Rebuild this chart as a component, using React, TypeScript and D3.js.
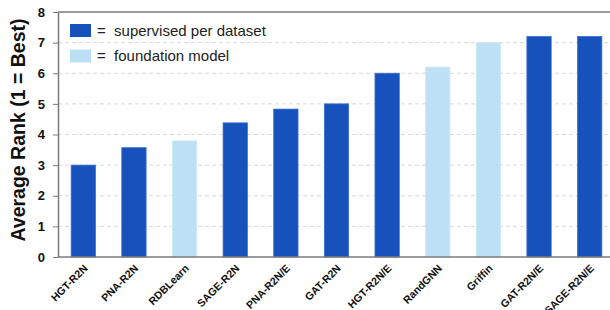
import React, { useEffect, useRef } from "react";
import * as d3 from "d3";

const models = [
  "HGT-R2N",
  "PNA-R2N",
  "RDBLearn",
  "SAGE-R2N",
  "PNA-R2N/E",
  "GAT-R2N",
  "HGT-R2N/E",
  "RandGNN",
  "Griffin",
  "GAT-R2N/E",
  "SAGE-R2N/E",
];
const avgRank = [3.0, 3.57, 3.79, 4.38, 4.83, 5.0, 6.0, 6.2, 7.0, 7.2, 7.2];
const isFoundation = [false, false, true, false, false, false, false, true, true, false, false];
const yTicks = [0, 1, 2, 3, 4, 5, 6, 7, 8];
const legendItems = ["supervised per dataset", "foundation model"];

const DARK = "#1751bb";
const LIGHT = "#bde0f5";

const App = () => {
  const svgRef = useRef<SVGSVGElement>(null);

  useEffect(() => {
    const svg = d3.select(svgRef.current);
    svg.selectAll("*").remove();

    const width = 610;
    const height = 310;
    const margin = { top: 12, right: -5, bottom: 53, left: 58 };
    const font = "Liberation Sans, Arial, sans-serif";

    const x = d3
      .scaleBand()
      .domain(models)
      .range([margin.left, width - margin.right])
      .paddingInner(0.52)
      .paddingOuter(0.26);

    const y = d3
      .scaleLinear()
      .domain([0, 8])
      .range([height - margin.bottom, margin.top]);

    // dashed grid
    svg
      .append("g")
      .selectAll("line")
      .data(yTicks.filter((t) => t > 0 && t < 8))
      .join("line")
      .attr("x1", margin.left)
      .attr("x2", width)
      .attr("y1", (d) => y(d))
      .attr("y2", (d) => y(d))
      .attr("stroke", "#d9d9d9")
      .attr("stroke-width", 1)
      .attr("stroke-dasharray", "4,3");

    // bars
    svg
      .append("g")
      .selectAll("rect")
      .data(models)
      .join("rect")
      .attr("x", (d) => x(d)!)
      .attr("y", (d, i) => y(avgRank[i]))
      .attr("width", x.bandwidth())
      .attr("height", (d, i) => y(0) - y(avgRank[i]))
      .attr("fill", (d, i) => (isFoundation[i] ? LIGHT : DARK))
      .attr("stroke", (d, i) => (isFoundation[i] ? "#cce8f8" : "#3a6fd0"))
      .attr("stroke-width", 0.8);

    // frame lines (top + bottom)
    [8, 0].forEach((v) => {
      svg
        .append("line")
        .attr("x1", margin.left)
        .attr("x2", width)
        .attr("y1", y(v))
        .attr("y2", y(v))
        .attr("stroke", "#7a7a7a")
        .attr("stroke-width", 1.5);
    });

    // y axis
    const yAxis = svg
      .append("g")
      .attr("transform", `translate(${margin.left},0)`)
      .call(
        d3.axisLeft(y).tickValues(yTicks).tickFormat(d3.format("d")).tickSizeInner(5).tickSizeOuter(0).tickPadding(8)
      );
    yAxis.select(".domain").attr("stroke", "#7a7a7a").attr("stroke-width", 1.5);
    yAxis.selectAll(".tick line").attr("stroke", "#7a7a7a");
    yAxis
      .selectAll("text")
      .attr("font-family", font)
      .attr("font-weight", "bold")
      .attr("font-size", 13)
      .attr("fill", "#111");

    // x labels, rotated
    svg
      .append("g")
      .selectAll("text")
      .data(models)
      .join("text")
      .attr("transform", (d) => `translate(${x(d)! + x.bandwidth() / 2 + 5},${y(0) + 12}) rotate(-45)`)
      .attr("text-anchor", "end")
      .attr("font-family", font)
      .attr("font-weight", "bold")
      .attr("font-size", 10.6)
      .attr("fill", "#111")
      .text((d) => d);

    // y label
    svg
      .append("text")
      .attr("transform", `translate(25,130) rotate(-90)`)
      .attr("text-anchor", "middle")
      .attr("font-family", font)
      .attr("font-weight", "bold")
      .attr("font-size", 19.5)
      .attr("fill", "#111")
      .text("Average Rank (1 = Best)");

    // legend
    const legend = svg
      .append("g")
      .selectAll("g")
      .data(legendItems)
      .join("g")
      .attr("transform", (d, i) => `translate(70,${24 + i * 25.5})`);
    legend
      .append("rect")
      .attr("width", 21)
      .attr("height", 13)
      .attr("fill", (d, i) => (i === 1 ? LIGHT : DARK));
    legend
      .append("text")
      .attr("x", 27)
      .attr("y", 11.5)
      .attr("font-family", font)
      .attr("font-size", 15)
      .attr("fill", "#222")
      .attr("xml:space", "preserve")
      .text((d) => `=  ${d}`);
  }, []);

  return (
    <svg
      ref={svgRef}
      width={610}
      height={310}
      style={{ display: "block", position: "absolute", left: 0, top: 0 }}
    ></svg>
  );
};

export default App;
